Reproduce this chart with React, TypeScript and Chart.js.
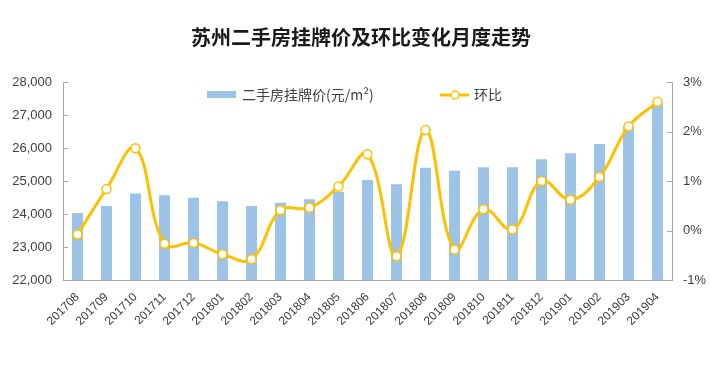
import React, { useEffect, useRef } from "react";
import { Chart, registerables } from "chart.js";

Chart.register(...registerables);

const categories = [
  "201708", "201709", "201710", "201711", "201712", "201801", "201802",
  "201803", "201804", "201805", "201806", "201807", "201808", "201809",
  "201810", "201811", "201812", "201901", "201902", "201903", "201904",
];

const listingPrice = [
  24030, 24240, 24620, 24570, 24490, 24390, 24240,
  24340, 24450, 24670, 25030, 24900, 25400, 25310,
  25420, 25420, 25660, 25840, 26120, 26650, 27350,
];

const momChange = [
  -0.08, 0.84, 1.66, -0.27, -0.25, -0.48, -0.58,
  0.41, 0.46, 0.89, 1.54, -0.52, 2.03, -0.39,
  0.43, 0.02, 1.0, 0.62, 1.08, 2.1, 2.6,
];

const leftTicks = [22000, 23000, 24000, 25000, 26000, 27000, 28000];
const rightTicks = [-1, 0, 1, 2, 3];

const TITLE = "苏州二手房挂牌价及环比变化月度走势";
const BAR_LABEL = "二手房挂牌价(元/m²)";
const LINE_LABEL = "环比";

const BAR_COLOR = "#9DC3E6";
const LINE_COLOR = "#FFC000";
const AXIS_COLOR = "#A6A6A6";
const TEXT_COLOR = "#404040";
const CJK = '"Noto Sans CJK SC", "Liberation Sans", sans-serif';
const LATIN = '"Liberation Sans", Arial, sans-serif';

const decorPlugin = {
  id: "decor",
  afterDraw(chart: any) {
    const ctx = chart.ctx as CanvasRenderingContext2D;
    const y = chart.scales.y;
    const y1 = chart.scales.y1;
    ctx.save();
    // inward tick marks
    ctx.strokeStyle = AXIS_COLOR;
    ctx.lineWidth = 1;
    ctx.beginPath();
    y.ticks.forEach((t: any) => {
      const py = Math.round(y.getPixelForValue(t.value)) + 0.5;
      ctx.moveTo(y.right, py);
      ctx.lineTo(y.right + 5, py);
    });
    y1.ticks.forEach((t: any) => {
      const py = Math.round(y1.getPixelForValue(t.value)) + 0.5;
      ctx.moveTo(y1.left, py);
      ctx.lineTo(y1.left - 5, py);
    });
    ctx.stroke();

    // title
    ctx.fillStyle = "#1a1a1a";
    ctx.font = "bold 20px " + CJK;
    ctx.textAlign = "center";
    ctx.textBaseline = "middle";
    ctx.fillText(TITLE, 361, 37);

    // legend
    ctx.fillStyle = BAR_COLOR;
    ctx.fillRect(207, 91, 29, 7);
    ctx.fillStyle = TEXT_COLOR;
    ctx.font = "14px " + CJK;
    ctx.textAlign = "left";
    ctx.fillText(BAR_LABEL, 242, 95);

    ctx.strokeStyle = LINE_COLOR;
    ctx.lineWidth = 3;
    ctx.beginPath();
    ctx.moveTo(440, 95);
    ctx.lineTo(469, 95);
    ctx.stroke();
    ctx.beginPath();
    ctx.arc(455, 95, 4, 0, Math.PI * 2);
    ctx.fillStyle = "#ffffff";
    ctx.fill();
    ctx.lineWidth = 1.5;
    ctx.stroke();
    ctx.fillStyle = TEXT_COLOR;
    ctx.fillText(LINE_LABEL, 474, 95);
    ctx.restore();
  },
};

export default function App() {
  const ref = useRef<HTMLCanvasElement | null>(null);

  useEffect(() => {
    if (!ref.current) return;
    const chart = new Chart(ref.current, {
      type: "bar",
      data: {
        labels: categories,
        datasets: [
          {
            type: "line",
            label: LINE_LABEL,
            data: momChange,
            yAxisID: "y1",
            borderColor: LINE_COLOR,
            backgroundColor: "#ffffff",
            borderWidth: 3,
            tension: 0.4,
            pointRadius: 4.5,
            pointBorderWidth: 1.5,
            pointBackgroundColor: "#ffffff",
            pointBorderColor: LINE_COLOR,
            order: 0,
          } as any,
          {
            type: "bar",
            label: BAR_LABEL,
            data: listingPrice,
            yAxisID: "y",
            backgroundColor: BAR_COLOR,
            barPercentage: 0.38,
            categoryPercentage: 1,
            order: 1,
          },
        ],
      },
      options: {
        responsive: true,
        maintainAspectRatio: false,
        animation: false,
        layout: { padding: { top: 82, left: 0, right: 0, bottom: 0 } },
        plugins: {
          legend: { display: false },
          title: { display: false },
          tooltip: { enabled: false },
        },
        scales: {
          x: {
            grid: { display: false, drawTicks: false },
            border: { display: true, color: AXIS_COLOR, width: 1 },
            ticks: {
              color: TEXT_COLOR,
              font: { family: LATIN, size: 12 },
              minRotation: 45,
              maxRotation: 45,
              autoSkip: false,
              padding: 10,
            },
            afterFit(scale: any) {
              scale.height = 89;
            },
          },
          y: {
            position: "left",
            min: 22000,
            max: 28000,
            afterBuildTicks(scale: any) {
              scale.ticks = leftTicks.map((v) => ({ value: v }));
            },
            grid: { display: false, drawTicks: false },
            border: { display: true, color: AXIS_COLOR, width: 1 },
            ticks: {
              color: TEXT_COLOR,
              font: { family: LATIN, size: 13 },
              padding: 11,
              callback: (v: any) => Number(v).toLocaleString("en-US"),
            },
            afterFit(scale: any) {
              scale.width = 63;
            },
          },
          y1: {
            position: "right",
            min: -1,
            max: 3,
            afterBuildTicks(scale: any) {
              scale.ticks = rightTicks.map((v) => ({ value: v }));
            },
            grid: { display: false, drawTicks: false },
            border: { display: true, color: AXIS_COLOR, width: 1 },
            ticks: {
              color: TEXT_COLOR,
              font: { family: LATIN, size: 13 },
              padding: 11,
              callback: (v: any) => v + "%",
            },
            afterFit(scale: any) {
              scale.width = 38;
            },
          },
        },
      },
      plugins: [decorPlugin],
    });
    return () => chart.destroy();
  }, []);

  return (
    <div style={{ position: "fixed", left: 0, top: 0, width: 710, height: 369, background: "#fff" }}>
      <canvas ref={ref} />
    </div>
  );
}
